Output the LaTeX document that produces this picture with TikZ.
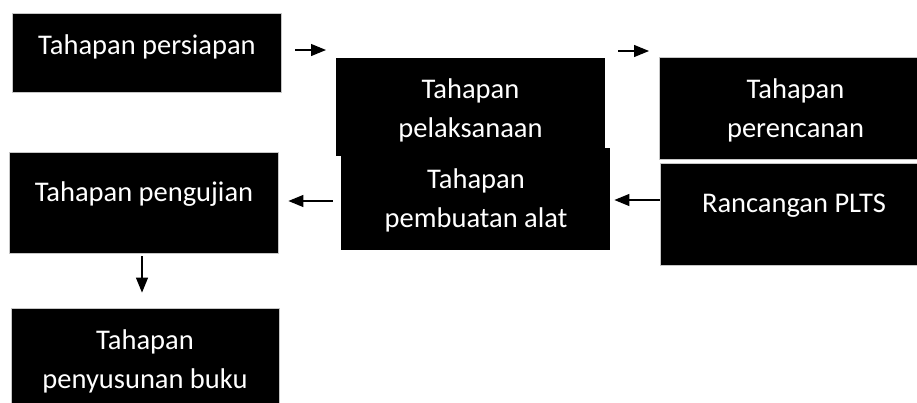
\documentclass[tikz,border=0pt]{standalone}
\usepackage{fontspec}
\setmainfont{Carlito}
\usetikzlibrary{arrows.meta}
\begin{document}
\begin{tikzpicture}[x=1pt,y=-1pt,
  box/.style={rectangle, fill=black, draw=gray!45, line width=0.8pt, inner sep=0pt},
  txt/.style={text=white, font=\fontsize{28.5}{39}\selectfont, align=center, anchor=base, inner sep=0pt},
  arr/.style={draw=black, line width=1.2pt, -{Triangle[length=15pt,width=12pt]}}]
\clip (0,0) rectangle (917,402);
\fill[white] (0,0) rectangle (917,402);
% boxes
\node[box, minimum width=269pt, minimum height=79pt] (b1) at (146.5,52.5) {};
\node[box, draw=none, minimum width=269pt, minimum height=102pt] (b3) at (475.5,199) {};
\node[box, draw=none, minimum width=269pt, minimum height=98pt] (b2) at (470.5,107) {};
\node[box, minimum width=273pt, minimum height=102pt] (b4) at (795.5,108) {};
\node[box, minimum width=272pt, minimum height=102pt] (b5) at (796,214) {};
\node[box, minimum width=269pt, minimum height=101pt] (b6) at (143.5,202.5) {};
\node[box, minimum width=268pt, minimum height=102pt] (b7) at (145,359) {};
% texts (base = baseline of the last line)
\node[txt] (t1) at (147,54) {Tahapan persiapan};
\node[txt] (t2) at (470.5,137) {Tahapan\\pelaksanaan};
\node[txt] (t3) at (476,227) {Tahapan\\pembuatan alat};
\node[txt] (t4) at (795.5,137) {Tahapan\\perencanan};
\node[txt] (t5) at (794,212) {Rancangan PLTS};
\node[txt] (t6) at (144,201) {Tahapan pengujian};
\node[txt] (t7) at (145,388) {Tahapan\\penyusunan buku};
% connectors
\coordinate (a1s) at (295,50);
\coordinate (a1e) at (326,50);
\coordinate (a2s) at (618,51);
\coordinate (a2e) at (649,51);
\draw[arr] (a1s) -- (a1e);
\draw[arr] (a2s) -- (a2e);
\draw[arr] (b5.west |- 0,200) -- ([xshift=4pt]b3.east |- 0,200);
\draw[arr] ([xshift=-8pt]b3.west |- 0,201) -- ([xshift=10pt]b6.east |- 0,201);
\draw[arr] ([yshift=-3pt]b6.south -| 142,0) -- ([yshift=15pt]b7.north -| 142,0);
\end{tikzpicture}
\end{document}
